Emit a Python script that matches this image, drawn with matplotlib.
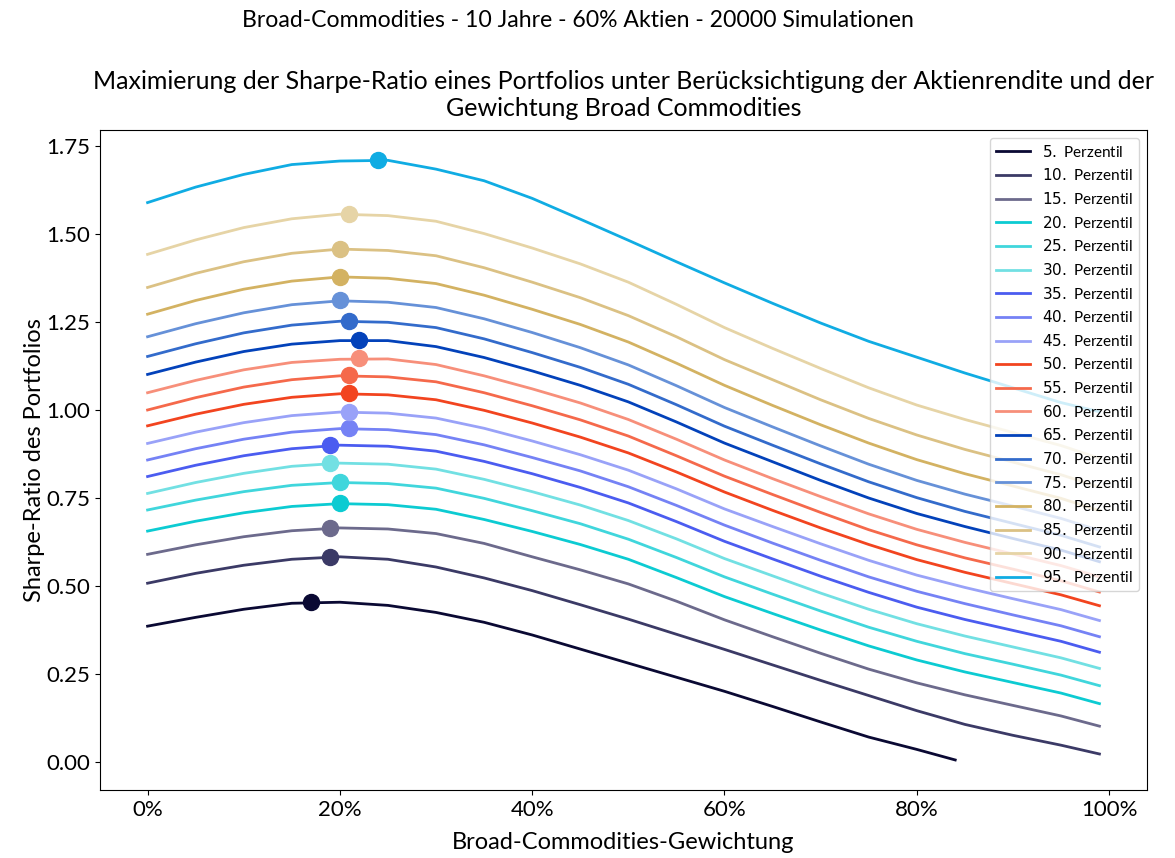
import matplotlib
matplotlib.use("Agg")
import matplotlib.pyplot as plt
from matplotlib.ticker import FuncFormatter, MultipleLocator

# Broad-Commodities weight (%)
weights = [0, 5, 10, 15, 20, 25, 30, 35, 40, 45, 50, 55, 60, 65, 70, 75, 80, 85, 90, 95, 99]
weights_p05 = [0, 5, 10, 15, 20, 25, 30, 35, 40, 45, 50, 55, 60, 65, 70, 75, 80, 84]

percentiles = [5, 10, 15, 20, 25, 30, 35, 40, 45, 50, 55, 60, 65, 70, 75, 80, 85, 90, 95]

p05 = [0.385, 0.410, 0.433, 0.450, 0.453, 0.444, 0.424, 0.396, 0.360, 0.320, 0.280, 0.240, 0.200, 0.157, 0.113, 0.070, 0.035, 0.005]
p10 = [0.507, 0.535, 0.558, 0.575, 0.582, 0.575, 0.553, 0.522, 0.486, 0.446, 0.405, 0.362, 0.319, 0.275, 0.231, 0.188, 0.145, 0.106, 0.075, 0.047, 0.022]
p15 = [0.589, 0.616, 0.639, 0.656, 0.664, 0.661, 0.648, 0.620, 0.582, 0.545, 0.505, 0.456, 0.403, 0.355, 0.308, 0.263, 0.224, 0.190, 0.160, 0.130, 0.101]
p20 = [0.655, 0.683, 0.707, 0.725, 0.733, 0.730, 0.717, 0.688, 0.654, 0.617, 0.575, 0.523, 0.469, 0.421, 0.374, 0.329, 0.289, 0.255, 0.225, 0.195, 0.165]
p25 = [0.715, 0.743, 0.767, 0.785, 0.793, 0.790, 0.777, 0.748, 0.713, 0.676, 0.632, 0.580, 0.525, 0.476, 0.428, 0.382, 0.342, 0.307, 0.277, 0.246, 0.216]
p30 = [0.762, 0.793, 0.819, 0.839, 0.848, 0.845, 0.831, 0.802, 0.767, 0.729, 0.685, 0.633, 0.577, 0.528, 0.479, 0.433, 0.392, 0.357, 0.326, 0.295, 0.265]
p35 = [0.810, 0.842, 0.869, 0.889, 0.899, 0.896, 0.882, 0.853, 0.818, 0.779, 0.735, 0.682, 0.626, 0.576, 0.527, 0.481, 0.439, 0.404, 0.373, 0.342, 0.311]
p40 = [0.857, 0.889, 0.916, 0.936, 0.946, 0.943, 0.929, 0.900, 0.864, 0.826, 0.781, 0.728, 0.672, 0.621, 0.572, 0.525, 0.484, 0.449, 0.417, 0.386, 0.355]
p45 = [0.904, 0.936, 0.963, 0.983, 0.993, 0.990, 0.976, 0.947, 0.911, 0.872, 0.828, 0.775, 0.718, 0.668, 0.619, 0.572, 0.530, 0.495, 0.463, 0.432, 0.401]
p50 = [0.954, 0.987, 1.015, 1.035, 1.045, 1.042, 1.028, 0.998, 0.962, 0.922, 0.877, 0.823, 0.766, 0.714, 0.664, 0.617, 0.574, 0.538, 0.506, 0.474, 0.443]
p55 = [0.999, 1.034, 1.064, 1.085, 1.096, 1.093, 1.079, 1.048, 1.011, 0.971, 0.925, 0.869, 0.811, 0.759, 0.708, 0.659, 0.616, 0.579, 0.547, 0.514, 0.482]
p60 = [1.048, 1.083, 1.113, 1.134, 1.143, 1.144, 1.128, 1.096, 1.059, 1.019, 0.972, 0.916, 0.857, 0.804, 0.753, 0.704, 0.660, 0.623, 0.590, 0.557, 0.525]
p65 = [1.100, 1.135, 1.165, 1.186, 1.196, 1.196, 1.179, 1.148, 1.110, 1.069, 1.022, 0.965, 0.905, 0.852, 0.799, 0.749, 0.705, 0.668, 0.634, 0.601, 0.568]
p70 = [1.151, 1.187, 1.218, 1.240, 1.251, 1.248, 1.233, 1.201, 1.162, 1.120, 1.072, 1.014, 0.953, 0.899, 0.846, 0.795, 0.750, 0.711, 0.677, 0.643, 0.610]
p75 = [1.207, 1.244, 1.275, 1.298, 1.309, 1.305, 1.290, 1.258, 1.219, 1.176, 1.127, 1.068, 1.006, 0.951, 0.897, 0.845, 0.799, 0.760, 0.726, 0.691, 0.657]
p80 = [1.271, 1.310, 1.342, 1.365, 1.377, 1.373, 1.358, 1.325, 1.285, 1.242, 1.192, 1.132, 1.069, 1.012, 0.957, 0.905, 0.858, 0.818, 0.783, 0.748, 0.713]
p85 = [1.347, 1.387, 1.420, 1.444, 1.456, 1.452, 1.437, 1.403, 1.362, 1.318, 1.267, 1.207, 1.142, 1.085, 1.028, 0.975, 0.928, 0.887, 0.851, 0.815, 0.780]
p90 = [1.441, 1.482, 1.517, 1.542, 1.555, 1.551, 1.535, 1.500, 1.459, 1.414, 1.362, 1.299, 1.233, 1.174, 1.117, 1.062, 1.013, 0.972, 0.935, 0.898, 0.862]
p95 = [1.588, 1.632, 1.668, 1.696, 1.706, 1.708, 1.683, 1.650, 1.600, 1.541, 1.481, 1.420, 1.360, 1.302, 1.246, 1.194, 1.149, 1.104, 1.062, 1.020, 0.994]

# optimum (max Sharpe) per percentile
opt_weight = [17, 19, 19, 20, 20, 19, 19, 21, 21, 21, 21, 22, 22, 21, 20, 20, 20, 21, 24]
opt_sharpe = [0.455, 0.582, 0.665, 0.734, 0.794, 0.849, 0.900, 0.947, 0.994, 1.046,
              1.097, 1.146, 1.198, 1.252, 1.310, 1.378, 1.457, 1.556, 1.709]

colors = ['#0a0933', '#3b3a66', '#6c6a8c', '#0ccbd2', '#40d6dc', '#72e0e3',
          '#4b5cf0', '#7582f5', '#99a2f8', '#f2441f', '#f5694b', '#f78f7a',
          '#0342ba', '#336bcb', '#6691d8', '#d3b262', '#dbc184', '#e6d4a6', '#10ace3']

series = [p05, p10, p15, p20, p25, p30, p35, p40, p45, p50,
          p55, p60, p65, p70, p75, p80, p85, p90, p95]

plt.rcParams['font.family'] = ['Lato', 'DejaVu Sans']

fig = plt.figure(figsize=(11.75, 8.58), dpi=100)
ax = fig.add_axes([0.0851, 0.0793, 0.8911, 0.7692])

for i, (p, vals, col) in enumerate(zip(percentiles, series, colors)):
    xs = weights_p05 if p == 5 else weights
    ax.plot(xs, vals, color=col, lw=2.0, label=f"${p}.$ Perzentil")
    ax.plot([opt_weight[i]], [opt_sharpe[i]], 'o', color=col, markersize=11.5, zorder=3)

ax.xaxis.set_major_locator(MultipleLocator(20))
ax.xaxis.set_major_formatter(FuncFormatter(lambda v, pos: f"{v:.0f}%"))
ax.yaxis.set_major_locator(MultipleLocator(0.25))
ax.yaxis.set_major_formatter(FuncFormatter(lambda v, pos: f"{v:.2f}"))
ax.tick_params(labelsize=16)

ax.set_xlabel("Broad-Commodities-Gewichtung", fontsize=17, labelpad=9)
ax.set_ylabel("Sharpe-Ratio des Portfolios", fontsize=17, labelpad=1)
ax.set_title("Maximierung der Sharpe-Ratio eines Portfolios unter Berücksichtigung der Aktienrendite und der\n"
             "Gewichtung Broad Commodities", fontsize=18, pad=10, linespacing=1.2)
fig.suptitle("Broad-Commodities - 10 Jahre - 60% Aktien - 20000 Simulationen", fontsize=16.6,
             x=0.492, y=0.988)

ax.legend(loc='upper right', fontsize=11, handlelength=2.2, labelspacing=0.5,
          borderaxespad=0.5)

fig.savefig("out.png", dpi=100)
